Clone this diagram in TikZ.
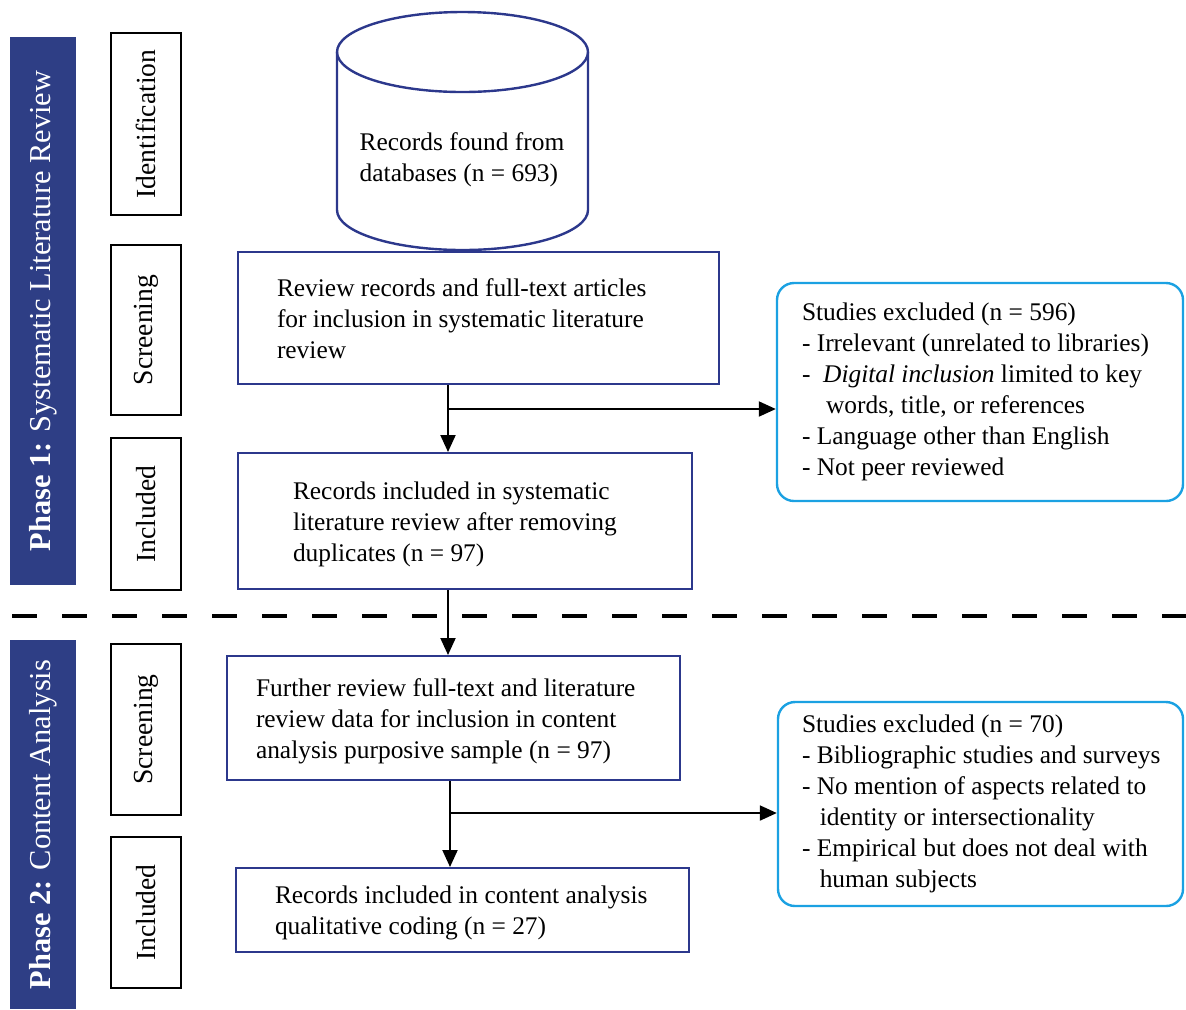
\documentclass[tikz,border=0pt]{standalone}
\usepackage{fontspec}
\setmainfont{Liberation Serif}
\usetikzlibrary{arrows.meta}
\definecolor{boxblue}{RGB}{44,56,140}
\definecolor{barblue}{RGB}{46,62,133}
\definecolor{exclcyan}{RGB}{27,161,226}
\newcommand\linesbox[2]{\makebox[#1][l]{\begin{tabular}{@{}l@{}}#2\end{tabular}}}
\newcommand\lowlinesbox[2]{\raisebox{-1.5pt}[\height][\depth]{\linesbox{#1}{#2}}}
\begin{document}
\begin{tikzpicture}[x=0.5pt,y=-0.5pt,
  bodyfont/.style={font=\fontsize{12.7}{15.5}\selectfont},
  flowbox/.style={draw=boxblue, line width=1pt, inner ysep=0pt, bodyfont},
  exclbox/.style={draw=exclcyan, line width=1.2pt, rounded corners=8.5pt, inner ysep=0pt, bodyfont},
  stagebox/.style={draw=black, line width=1.2pt, rotate=90, minimum height=35pt, inner sep=0pt, font=\fontsize{13.8}{16}\selectfont},
  phasebar/.style={fill=barblue, draw=none, rotate=90, minimum height=33pt, inner sep=0pt, text=white, font=\fontsize{15.2}{18}\selectfont},
  arr/.style={draw=black, line width=1pt, -{Triangle[length=8.5pt,width=7.5pt]}},
  cyl/.style={draw=boxblue, line width=1.2pt}
]
\useasboundingbox (0,0) rectangle (1186,1009);

% phase bars
\node[phasebar, minimum width=274pt] (ph1) at (43,311) {\textbf{Phase 1:} Systematic Literature Review};
\node[phasebar, minimum width=184.5pt] (ph2) at (43,824.5) {\textbf{Phase 2:} Content Analysis};

% stage labels
\node[stagebox, minimum width=91pt] (sId) at (146,124) {Identification};
\node[stagebox, minimum width=85pt] (sSc1) at (146,330) {Screening};
\node[stagebox, minimum width=76pt] (sIn1) at (146,514) {Included};
\node[stagebox, minimum width=85.5pt] (sSc2) at (146,729.5) {Screening};
\node[stagebox, minimum width=75.5pt] (sIn2) at (146,912.5) {Included};

% database cylinder
\draw[cyl] (462.5,52) ellipse [x radius=62.75pt, y radius=20pt];
\draw[cyl] (337,52) -- (337,210) arc[start angle=180, end angle=360, x radius=62.75pt, y radius=20pt] -- (588,52);
\node[bodyfont, align=left] (db) at (462,159.5) {Records found from\\databases (n = 693)};

% flow boxes
\node[flowbox, minimum width=240.5pt, minimum height=66pt, inner xsep=19.5pt] (b1) at (478.5,318)
  {\lowlinesbox{201.5pt}{Review records and full-text articles\\for inclusion in systematic literature\\review}};
\node[flowbox, minimum width=227pt, minimum height=68pt, inner xsep=27.5pt] (b2) at (465,521)
  {\lowlinesbox{172pt}{Records included in systematic\\literature review after removing\\duplicates (n = 97)}};
\node[flowbox, minimum width=226.5pt, minimum height=62pt, inner xsep=14.5pt] (b3) at (453.5,718)
  {\lowlinesbox{197.5pt}{Further review full-text and literature\\review data for inclusion in content\\analysis purposive sample (n = 97)}};
\node[flowbox, minimum width=226.5pt, minimum height=42pt, inner xsep=19.5pt] (b4) at (462.5,910)
  {\lowlinesbox{187.5pt}{Records included in content analysis\\qualitative coding (n = 27)}};

% exclusion boxes
\node[exclbox, minimum width=203pt, minimum height=109pt, inner xsep=12.5pt] (e1) at (980,392)
  {\linesbox{178pt}{Studies excluded (n = 596)\\- Irrelevant (unrelated to libraries)\\-\hspace{0.5em}\textit{Digital inclusion} limited to key\\\hspace*{0.95em}words, title, or references\\- Language other than English\\- Not peer reviewed}};
\node[exclbox, minimum width=202.5pt, minimum height=102pt, inner xsep=12pt] (e2) at (980.5,804)
  {\linesbox{178.5pt}{Studies excluded (n = 70)\\- Bibliographic studies and surveys\\- No mention of aspects related to\\\hspace*{0.7em}identity or intersectionality\\- Empirical but does not deal with\\\hspace*{0.7em}human subjects}};

% phase divider
\coordinate (dl) at (12,616);
\coordinate (dr) at (1186,616);
\draw[line width=2pt, dash pattern=on 12.5pt off 12.5pt] (dl) -- (dr);

% connectors
\coordinate (j1) at (448,409);
\draw[arr] (b1.south -| j1) -- (b2.north -| j1);
\draw[arr] (j1) -- (e1.west |- j1);
\coordinate (j2) at (448,600);
\draw[arr] (b2.south -| j2) -- (b3.north -| j2);
\coordinate (j3) at (450,813);
\draw[arr] (b3.south -| j3) -- (b4.north -| j3);
\draw[arr] (j3) -- (e2.west |- j3);
\end{tikzpicture}
\end{document}
